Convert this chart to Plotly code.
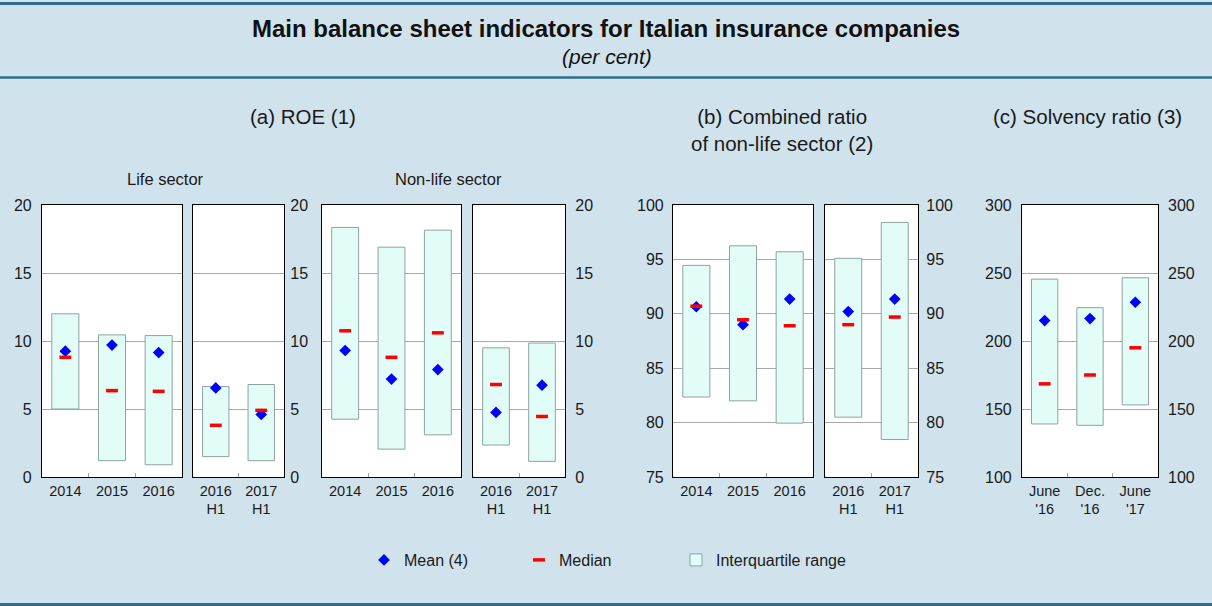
import plotly.graph_objects as go

W, H = 1212, 606

# ---------------- data ----------------
life_years = ["2014", "2015", "2016"]
life_q1 = [5.0, 1.2, 0.9]
life_q3 = [12.0, 10.45, 10.4]
life_mean = [9.25, 9.7, 9.15]
life_median = [8.8, 6.35, 6.3]

half_years = ["2016<br>H1", "2017<br>H1"]
life_h_q1 = [1.5, 1.2]
life_h_q3 = [6.65, 6.8]
life_h_mean = [6.55, 4.6]
life_h_median = [3.8, 4.9]

nonlife_q1 = [4.25, 2.05, 3.1]
nonlife_q3 = [18.35, 16.9, 18.15]
nonlife_mean = [9.3, 7.2, 7.9]
nonlife_median = [10.75, 8.8, 10.6]

nonlife_h_q1 = [2.35, 1.15]
nonlife_h_q3 = [9.5, 9.85]
nonlife_h_mean = [4.75, 6.75]
nonlife_h_median = [6.8, 4.45]

cr_years = ["2014", "2015", "2016"]
cr_q1 = [82.35, 82.0, 79.95]
cr_q3 = [94.45, 96.25, 95.7]
cr_mean = [90.65, 89.0, 91.35]
cr_median = [90.7, 89.45, 88.9]

cr_h_q1 = [80.5, 78.45]
cr_h_q3 = [95.1, 98.4]
cr_h_mean = [90.2, 91.35]
cr_h_median = [89.0, 89.7]

sol_periods = ["June<br>'16", "Dec.<br>'16", "June<br>'17"]
sol_q1 = [139, 138, 153]
sol_q3 = [245.5, 224.5, 246.5]
sol_mean = [215, 216.5, 228.5]
sol_median = [168.5, 175, 195]

# ---------------- styling ----------------
BG = "#D0E2EC"
RULE = "#2F6E8D"
FONT = "Liberation Sans, Arial, Helvetica, sans-serif"
TXT = "#1a1a1a"
BOX_FILL = "#E2FDF7"
BOX_LINE = "#8FA39E"
GRID = "#A8A8A8"


def fx(p):
    return p / W


def fy(p):
    return 1 - p / H


panels = [
    dict(cats=life_years, q1=life_q1, q3=life_q3, mean=life_mean, med=life_median,
         rng=[0, 20], dtick=5, labels="left", standoff=6, px=(42, 182)),
    dict(cats=half_years, q1=life_h_q1, q3=life_h_q3, mean=life_h_mean, med=life_h_median,
         rng=[0, 20], dtick=5, labels="right", standoff=2, px=(193, 284)),
    dict(cats=life_years, q1=nonlife_q1, q3=nonlife_q3, mean=nonlife_mean, med=nonlife_median,
         rng=[0, 20], dtick=5, labels="none", standoff=6, px=(322, 461)),
    dict(cats=half_years, q1=nonlife_h_q1, q3=nonlife_h_q3, mean=nonlife_h_mean, med=nonlife_h_median,
         rng=[0, 20], dtick=5, labels="right", standoff=6, px=(473, 565)),
    dict(cats=cr_years, q1=cr_q1, q3=cr_q3, mean=cr_mean, med=cr_median,
         rng=[75, 100], dtick=5, labels="left", standoff=5, px=(673, 813)),
    dict(cats=half_years, q1=cr_h_q1, q3=cr_h_q3, mean=cr_h_mean, med=cr_h_median,
         rng=[75, 100], dtick=5, labels="right", standoff=4, px=(825, 918)),
    dict(cats=sol_periods, q1=sol_q1, q3=sol_q3, mean=sol_mean, med=sol_median,
         rng=[100, 300], dtick=50, labels="both", standoff=6, px=(1022, 1158)),
]

Y_TOP, Y_BOT = 205, 477

fig = go.Figure()
layout = {}

for i, p in enumerate(panels, start=1):
    xn = "x" if i == 1 else f"x{i}"
    yn = "y" if i == 1 else f"y{i}"
    first = i == 1
    iqr = [b - a for a, b in zip(p["q1"], p["q3"])]
    fig.add_trace(go.Bar(
        x=p["cats"], y=iqr, base=p["q1"], width=0.58,
        marker=dict(color=BOX_FILL, line=dict(color=BOX_LINE, width=1)),
        name="Interquartile range", legend="legend3", showlegend=first,
        xaxis=xn, yaxis=yn, hoverinfo="skip"))
    fig.add_trace(go.Scatter(
        x=p["cats"], y=p["mean"], mode="markers",
        marker=dict(symbol="diamond", size=9, color="#0000FF", line=dict(width=0)),
        name="Mean (4)", legend="legend", showlegend=first,
        xaxis=xn, yaxis=yn))
    fig.add_trace(go.Scatter(
        x=p["cats"], y=p["med"], mode="markers",
        marker=dict(symbol="line-ew", size=8.5, color="#FF0000",
                    line=dict(width=3.5, color="#FF0000")),
        name="Median", legend="legend2", showlegend=first,
        xaxis=xn, yaxis=yn))

    ax_key = "xaxis" if i == 1 else f"xaxis{i}"
    ay_key = "yaxis" if i == 1 else f"yaxis{i}"
    layout[ax_key] = dict(
        domain=[fx(p["px"][0]), fx(p["px"][1])], anchor=yn, automargin=False,
        type="category", categoryorder="array", categoryarray=p["cats"],
        showline=True, mirror=True, linecolor="black", linewidth=1.2,
        ticks="inside", tickson="boundaries", ticklen=4, tickcolor="#A0A0A0",
        showgrid=False, zeroline=False, fixedrange=True,
        tickfont=dict(family=FONT, size=14.5, color=TXT), ticklabelstandoff=0)
    side = "right" if p["labels"] == "right" else "left"
    layout[ay_key] = dict(
        domain=[fy(Y_BOT), fy(Y_TOP)], anchor=xn, side=side, automargin=False,
        range=p["rng"], dtick=p["dtick"], tick0=p["rng"][0],
        showline=True, mirror=True, linecolor="black", linewidth=1.2,
        showgrid=True, gridcolor=GRID, gridwidth=1, zeroline=False,
        ticks="", showticklabels=p["labels"] != "none",
        ticklabelstandoff=p["standoff"], fixedrange=True,
        tickfont=dict(family=FONT, size=16, color=TXT))

# right-hand labels for panel (c)
c = panels[6]
fig.add_trace(go.Scatter(x=c["cats"], y=c["mean"], mode="markers",
                         marker=dict(opacity=0), showlegend=False, hoverinfo="skip",
                         xaxis="x7", yaxis="y8"))
layout["yaxis8"] = dict(
    domain=[fy(Y_BOT), fy(Y_TOP)], anchor="x7", overlaying="y7", side="right",
    automargin=False,
    range=c["rng"], dtick=c["dtick"], tick0=c["rng"][0], showgrid=False,
    zeroline=False, showline=False, ticks="", ticklabelstandoff=9, fixedrange=True,
    tickfont=dict(family=FONT, size=16, color=TXT))

annotations = [
    dict(text="<b>Main balance sheet indicators for Italian insurance companies</b>",
         x=fx(606), y=fy(28), font=dict(size=24, family=FONT, color="#111")),
    dict(text="<i>(per cent)</i>", x=fx(607), y=fy(57),
         font=dict(size=21, family=FONT, color="#111")),
    dict(text="(a) ROE (1)", x=fx(303), y=fy(117), font=dict(size=20.5, family=FONT, color=TXT)),
    dict(text="(b) Combined ratio<br>of non-life sector (2)", x=fx(782), y=fy(130),
         font=dict(size=20.5, family=FONT, color=TXT)),
    dict(text="(c) Solvency ratio (3)", x=fx(1087), y=fy(117),
         font=dict(size=20.5, family=FONT, color=TXT)),
    dict(text="Life sector", x=fx(165), y=fy(179), font=dict(size=16.5, family=FONT, color=TXT)),
    dict(text="Non-life sector", x=fx(448), y=fy(179), font=dict(size=16.5, family=FONT, color=TXT)),
]
for a in annotations:
    a.update(xref="paper", yref="paper", showarrow=False, xanchor="center", yanchor="middle")

shapes = [
    dict(type="line", xref="paper", yref="paper", x0=0, x1=1, y0=fy(3.5), y1=fy(3.5),
         line=dict(color=RULE, width=3)),
    dict(type="line", xref="paper", yref="paper", x0=0, x1=1, y0=fy(77.5), y1=fy(77.5),
         line=dict(color=RULE, width=2.5)),
    dict(type="line", xref="paper", yref="paper", x0=0, x1=1, y0=fy(604.5), y1=fy(604.5),
         line=dict(color=RULE, width=3)),
]

leg_common = dict(orientation="h", yanchor="middle", xanchor="left", y=fy(560),
                  bgcolor="rgba(0,0,0,0)", font=dict(size=16, family=FONT, color=TXT))

fig.update_layout(
    width=W, height=H, autosize=False,
    margin=dict(l=0, r=0, t=0, b=0, pad=0, autoexpand=False),
    paper_bgcolor=BG, plot_bgcolor="white",
    font=dict(family=FONT, color=TXT),
    barmode="overlay", showlegend=True,
    legend=dict(x=fx(364), **leg_common),
    legend2=dict(x=fx(519), **leg_common),
    legend3=dict(x=fx(676), **leg_common),
    annotations=annotations, shapes=shapes,
    **layout)

fig.write_html("out.html", config={"displayModeBar": False, "responsive": False},
               post_script="document.body.style.margin='0px';document.body.style.overflow='hidden';")
